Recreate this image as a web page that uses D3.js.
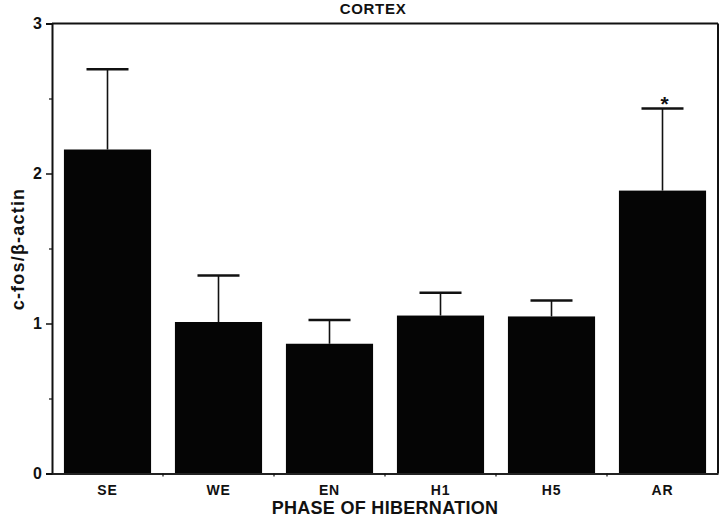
<!DOCTYPE html>
<html>
<head>
<meta charset="utf-8">
<script src="https://cdn.jsdelivr.net/npm/d3@7"></script>
<style>
  body { margin: 0; background: #fff; }
  text { font-family: "Liberation Sans", Arial, Helvetica, sans-serif; font-weight: bold; fill: #111; }
</style>
</head>
<body>
<script>
var svgWidth = 720;
var svgHeight = 521;

var margin = { top: 23.5, right: 2, bottom: 47.5, left: 52 };

var chartWidth = svgWidth - margin.left - margin.right;
var chartHeight = svgHeight - margin.top - margin.bottom;

// DATA
var phases = ["SE", "WE", "EN", "H1", "H5", "AR"];
var means = [2.16, 1.01, 0.865, 1.053, 1.047, 1.886];
var errTops = [2.695, 1.32, 1.023, 1.205, 1.153, 2.433];
var starred = ["AR"];
var yTicks = [0, 1, 2, 3];
var yMinorTicks = [0.5, 1.5, 2.5];

var svg = d3.select("body").append("svg")
  .attr("width", svgWidth)
  .attr("height", svgHeight);

var chartGroup = svg.append("g")
  .attr("transform", `translate(${margin.left}, ${margin.top})`);

// SCALES
var xScale = d3.scaleBand().domain(phases).range([0, chartWidth]).padding(0);
var yScale = d3.scaleLinear().domain([0, 3]).range([chartHeight, 0]);

var barW = xScale.bandwidth() * 0.785;
var capW = 42;

// BARS
var rows = phases.map((p, i) => ({ phase: p, mean: means[i], top: errTops[i] }));

chartGroup.selectAll(".errv")
  .data(rows)
  .enter()
  .append("line")
  .attr("x1", d => xScale(d.phase) + xScale.bandwidth() / 2)
  .attr("x2", d => xScale(d.phase) + xScale.bandwidth() / 2)
  .attr("y1", d => yScale(d.mean))
  .attr("y2", d => yScale(d.top))
  .attr("stroke", "#111")
  .attr("stroke-width", 1.6);

chartGroup.selectAll(".cap")
  .data(rows)
  .enter()
  .append("line")
  .attr("x1", d => xScale(d.phase) + xScale.bandwidth() / 2 - capW / 2)
  .attr("x2", d => xScale(d.phase) + xScale.bandwidth() / 2 + capW / 2)
  .attr("y1", d => yScale(d.top))
  .attr("y2", d => yScale(d.top))
  .attr("stroke", "#111")
  .attr("stroke-width", 2.5);

chartGroup.selectAll("rect.bar")
  .data(rows)
  .enter()
  .append("rect")
  .attr("class", "bar")
  .attr("x", d => xScale(d.phase) + (xScale.bandwidth() - barW) / 2)
  .attr("y", d => yScale(d.mean))
  .attr("width", barW)
  .attr("height", d => yScale(0) - yScale(d.mean))
  .attr("fill", "#050505");

// asterisk
chartGroup.selectAll(".star")
  .data(rows.filter(d => starred.includes(d.phase)))
  .enter()
  .append("text")
  .attr("x", d => xScale(d.phase) + xScale.bandwidth() / 2 + 2)
  .attr("y", d => yScale(d.top) + 2)
  .attr("text-anchor", "middle")
  .style("font-size", "21px")
  .text("*");

// FRAME (top and right)
chartGroup.append("line")
  .attr("x1", 0).attr("x2", chartWidth)
  .attr("y1", 0).attr("y2", 0)
  .attr("stroke", "#111").attr("stroke-width", 2);
chartGroup.append("line")
  .attr("x1", chartWidth).attr("x2", chartWidth)
  .attr("y1", 0).attr("y2", chartHeight)
  .attr("stroke", "#111").attr("stroke-width", 2);

// AXES
var leftAxis = d3.axisLeft(yScale).tickValues(yTicks).tickFormat(d3.format("d")).tickSize(6).tickPadding(4);
var yAxisG = chartGroup.append("g").call(leftAxis);
yAxisG.select(".domain").attr("stroke", "#111").attr("stroke-width", 2);
yAxisG.selectAll(".tick line").attr("stroke", "#111").attr("stroke-width", 1.5);
yAxisG.selectAll(".tick text").style("font-size", "16px").style("font-weight", "bold").attr("fill", "#111");

var minorAxis = d3.axisLeft(yScale).tickValues(yMinorTicks).tickFormat("").tickSize(3);
var minorG = chartGroup.append("g").call(minorAxis);
minorG.select(".domain").remove();
minorG.selectAll(".tick line").attr("stroke", "#111").attr("stroke-width", 1.2);

var bottomAxis = d3.axisBottom(xScale).tickSize(0).tickPadding(12);
var xAxisG = chartGroup.append("g")
  .attr("transform", `translate(0, ${chartHeight})`)
  .call(bottomAxis);
xAxisG.select(".domain").attr("stroke", "#222").attr("stroke-width", 2);
xAxisG.selectAll(".tick text").style("font-size", "14px").style("font-weight", "bold").attr("fill", "#111")
  .style("letter-spacing", "0.8px");

// boundary ticks between categories
chartGroup.append("g")
  .attr("transform", `translate(0, ${chartHeight})`)
  .selectAll("line")
  .data(phases.slice(1))
  .enter()
  .append("line")
  .attr("x1", d => xScale(d))
  .attr("x2", d => xScale(d))
  .attr("y1", 0)
  .attr("y2", 3)
  .attr("stroke", "#111")
  .attr("stroke-width", 1.2);

// TITLES
svg.append("text")
  .attr("x", 373)
  .attr("y", 14)
  .attr("text-anchor", "middle")
  .style("font-size", "15px")
  .style("letter-spacing", "0.7px")
  .text("CORTEX");

svg.append("text")
  .attr("x", 385)
  .attr("y", 514)
  .attr("text-anchor", "middle")
  .style("font-size", "18px")
  .style("letter-spacing", "0.3px")
  .text("PHASE OF HIBERNATION");

svg.append("text")
  .attr("transform", "translate(24, 249) rotate(-90)")
  .attr("text-anchor", "middle")
  .style("font-size", "18px")
  .style("letter-spacing", "1.2px")
  .text("c-fos/β-actin");
</script>
</body>
</html>
